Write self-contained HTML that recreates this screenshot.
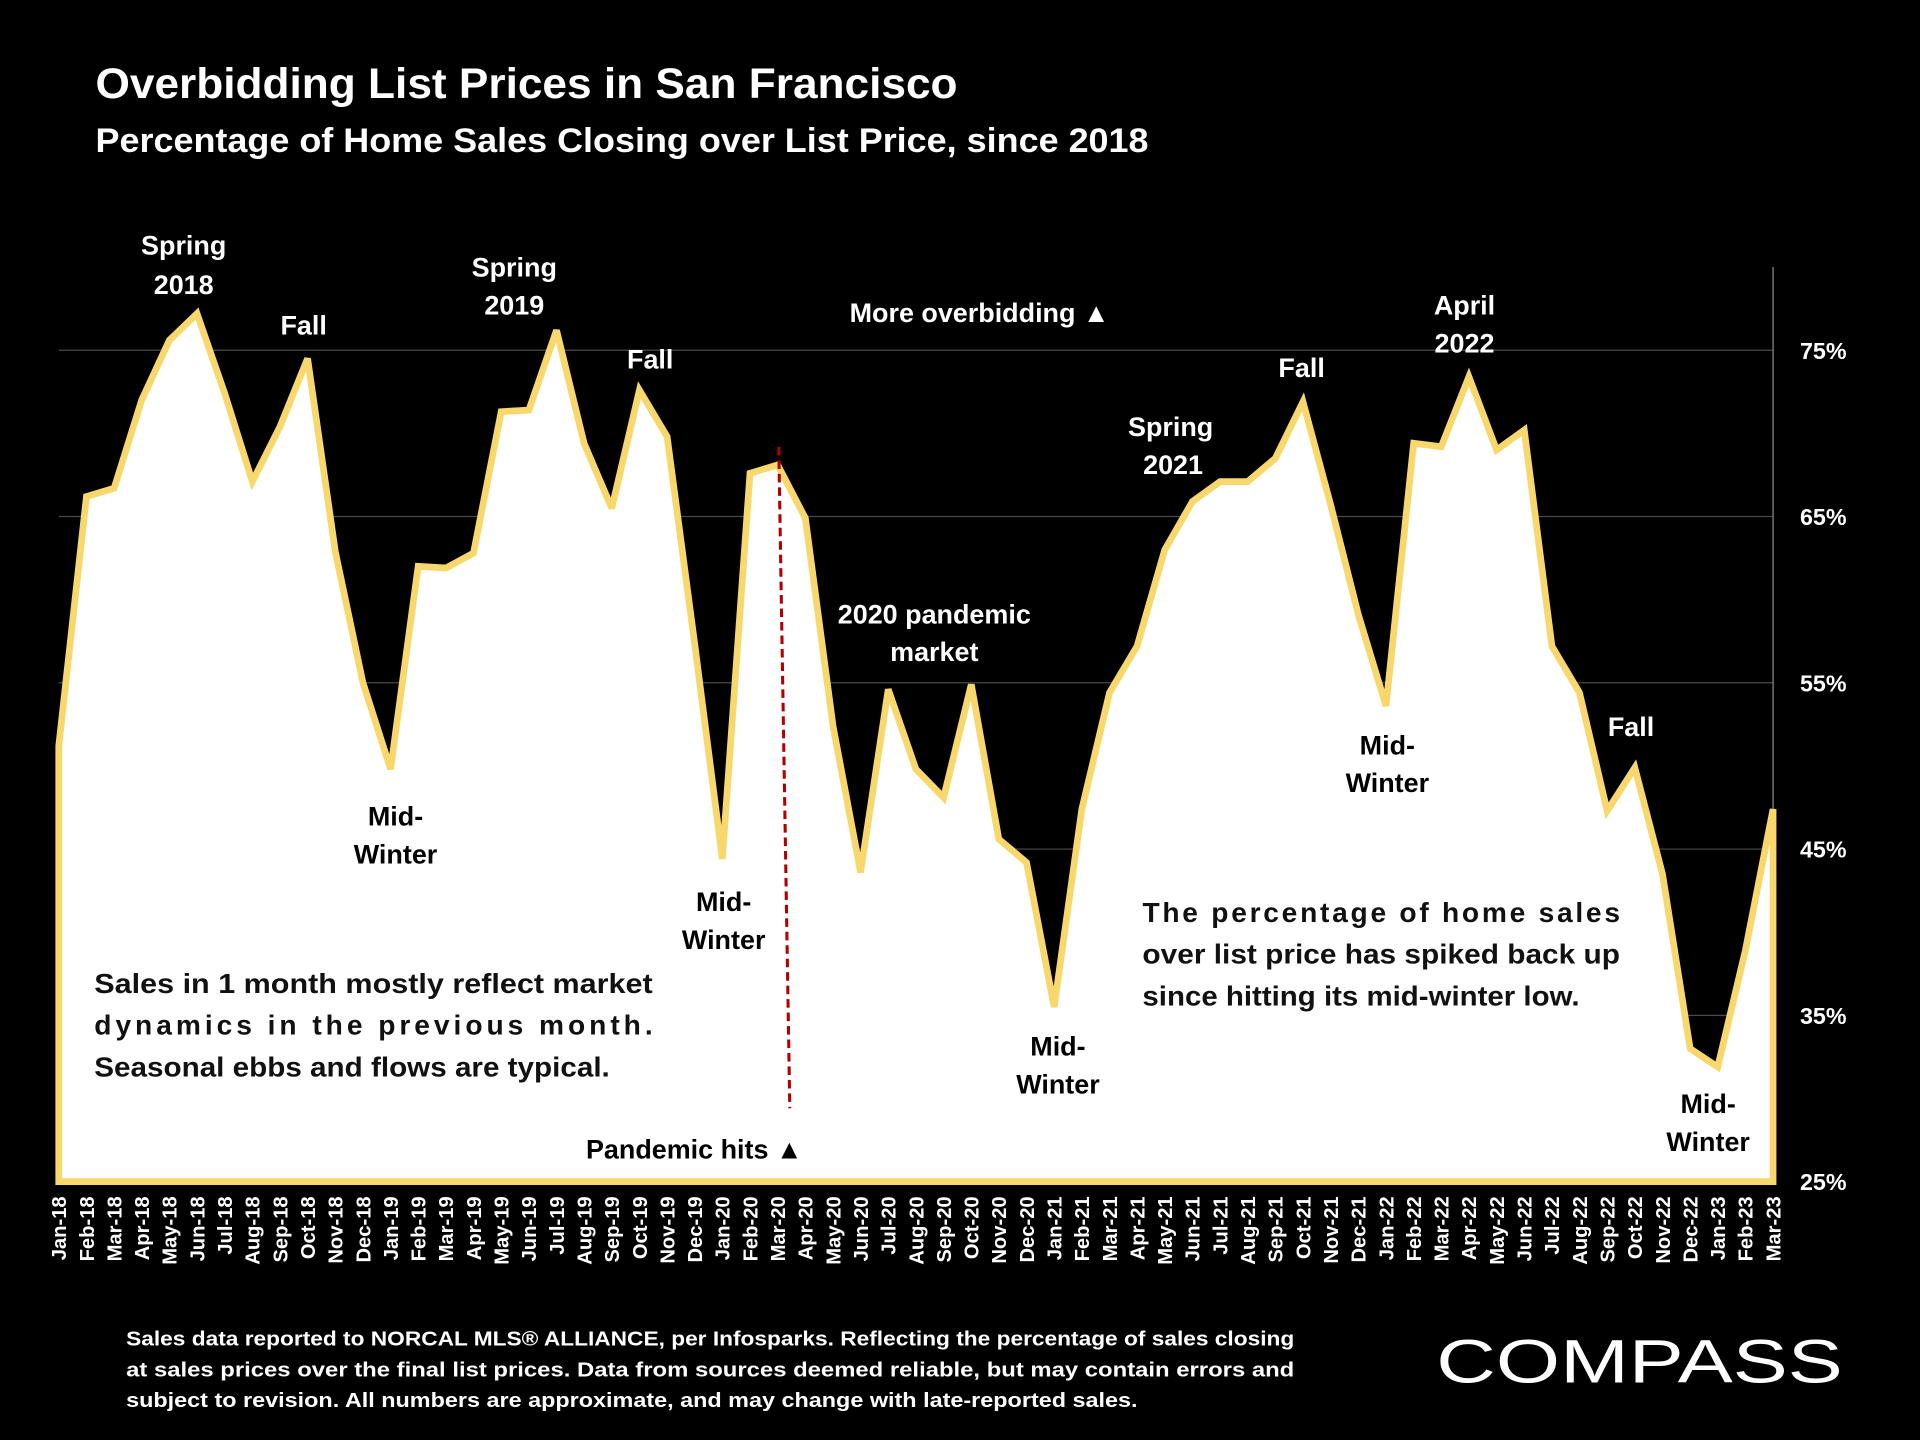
<!DOCTYPE html>
<html><head><meta charset="utf-8"><style>
html,body{margin:0;padding:0;background:#000;}
svg{display:block;font-family:"Liberation Sans",sans-serif;font-weight:bold;}
</style></head><body>
<svg id="chart" width="1920" height="1440" viewBox="0 0 1568 1176" xmlns="http://www.w3.org/2000/svg">
<rect width="1568" height="1176" fill="#000"/>
<text x="78" y="80" fill="#fff" font-size="35" textLength="704" lengthAdjust="spacingAndGlyphs">Overbidding List Prices in San Francisco</text>
<text x="78" y="124" fill="#fff" font-size="28" textLength="860" lengthAdjust="spacingAndGlyphs">Percentage of Home Sales Closing over List Price, since 2018</text>
<g id="grid"></g>
<g id="area"></g>
<g id="yticks"></g>
<g id="xticks"></g>
<line x1="636" y1="365" x2="645" y2="905" stroke="#b00000" stroke-width="2.5" stroke-dasharray="7,4"/>
<g fill="#000" font-size="22" text-anchor="middle">
<text x="150" y="208" fill="#fff">Spring</text><text x="150" y="240" fill="#fff">2018</text>
<text x="248" y="273" fill="#fff">Fall</text>
<text x="323" y="674">Mid-</text><text x="323" y="705">Winter</text>
<text x="420" y="226" fill="#fff">Spring</text><text x="420" y="257" fill="#fff">2019</text>
<text x="531" y="301" fill="#fff">Fall</text>
<text x="591" y="744">Mid-</text><text x="591" y="775">Winter</text>
<text x="763" y="509" fill="#fff">2020 pandemic</text><text x="763" y="540" fill="#fff">market</text>
<text x="800" y="263" fill="#fff">More overbidding ▲</text>
<text x="567" y="946">Pandemic hits ▲</text>
<text x="864" y="862">Mid-</text><text x="864" y="893">Winter</text>
<text x="956" y="356" fill="#fff">Spring</text><text x="958" y="387" fill="#fff">2021</text>
<text x="1063" y="308" fill="#fff">Fall</text>
<text x="1196" y="257" fill="#fff">April</text><text x="1196" y="288" fill="#fff">2022</text>
<text x="1133" y="616">Mid-</text><text x="1133" y="647">Winter</text>
<text x="1332" y="601" fill="#fff">Fall</text>
<text x="1395" y="909">Mid-</text><text x="1395" y="940">Winter</text>
</g>
<g fill="#111" font-size="23">
<text x="77" y="811" textLength="456" lengthAdjust="spacingAndGlyphs">Sales in 1 month mostly reflect market</text>
<text x="77" y="845" textLength="456" lengthAdjust="spacing">dynamics in the previous month.</text>
<text x="77" y="879" textLength="421" lengthAdjust="spacingAndGlyphs">Seasonal ebbs and flows are typical.</text>
</g>
<g fill="#111" font-size="23">
<text x="933" y="753" textLength="390" lengthAdjust="spacing">The percentage of home sales</text>
<text x="933" y="787" textLength="390" lengthAdjust="spacingAndGlyphs">over list price has spiked back up</text>
<text x="933" y="821" textLength="357" lengthAdjust="spacingAndGlyphs">since hitting its mid-winter low.</text>
</g>
<g fill="#fff" font-size="16.5">
<text x="103" y="1099" textLength="954" lengthAdjust="spacingAndGlyphs">Sales data reported to NORCAL MLS® ALLIANCE, per Infosparks. Reflecting the percentage of sales closing</text>
<text x="103" y="1124" textLength="954" lengthAdjust="spacingAndGlyphs">at sales prices over the final list prices. Data from sources deemed reliable, but may contain errors and</text>
<text x="103" y="1149" textLength="826" lengthAdjust="spacingAndGlyphs">subject to revision. All numbers are approximate, and may change with late-reported sales.</text>
</g>
<text x="1173" y="1129" fill="#fff" font-size="50" font-weight="normal" textLength="332" lengthAdjust="spacingAndGlyphs">COMPASS</text>
</svg>
<script>
const months = ["Jan-18","Feb-18","Mar-18","Apr-18","May-18","Jun-18","Jul-18","Aug-18","Sep-18","Oct-18","Nov-18","Dec-18",
"Jan-19","Feb-19","Mar-19","Apr-19","May-19","Jun-19","Jul-19","Aug-19","Sep-19","Oct-19","Nov-19","Dec-19",
"Jan-20","Feb-20","Mar-20","Apr-20","May-20","Jun-20","Jul-20","Aug-20","Sep-20","Oct-20","Nov-20","Dec-20",
"Jan-21","Feb-21","Mar-21","Apr-21","May-21","Jun-21","Jul-21","Aug-21","Sep-21","Oct-21","Nov-21","Dec-21",
"Jan-22","Feb-22","Mar-22","Apr-22","May-22","Jun-22","Jul-22","Aug-22","Sep-22","Oct-22","Nov-22","Dec-22",
"Jan-23","Feb-23","Mar-23"];
const pctOverList = [51.2,66.2,66.7,72.0,75.6,77.2,72.4,67.1,70.4,74.5,62.9,55.0,
49.8,62.0,61.9,62.8,71.3,71.4,76.2,69.4,65.5,72.6,69.8,57.3,
44.4,67.6,68.1,64.9,52.4,43.6,54.6,49.8,48.1,54.9,45.6,44.2,
35.5,47.4,54.4,57.2,63.0,65.9,67.1,67.1,68.5,71.9,65.7,59.1,
53.6,69.4,69.2,73.4,69.0,70.2,57.2,54.4,47.3,49.9,43.5,33.0,
31.9,38.9,47.4];
const yTicks = [25,35,45,55,65,75];
const yTickLabels = ["25%","35%","45%","55%","65%","75%"];

const NS = "http://www.w3.org/2000/svg";
const X0 = 48, X1 = 1448, Y75 = 286, Y25 = 965;
function xs(i){ return X0 + i * (X1 - X0) / (months.length - 1); }
function ys(v){ return Y25 - (v - 25) * (Y25 - Y75) / 50; }
function mk(tag, attrs, parent){ const e = document.createElementNS(NS, tag); for (const k in attrs) e.setAttribute(k, attrs[k]); parent.appendChild(e); return e; }

const grid = document.getElementById("grid");
yTicks.forEach((t, i) => {
  if (t > 25) {
    const gl = mk("line", {x1: X0, x2: X1, y1: ys(t), y2: ys(t), stroke: "#4a4a4a", "stroke-width": 1}, grid);
    
    
  }
});
const ax = mk("line", {x1: X1, x2: X1, y1: 218, y2: Y25, stroke: "#777", "stroke-width": 1.2}, grid);



const area = document.getElementById("area");
let pts = X0 + "," + Y25 + " ";
pctOverList.forEach((v, i) => { pts += xs(i).toFixed(1) + "," + ys(v).toFixed(1) + " "; });
pts += X1 + "," + Y25;
const poly = mk("polygon", {points: pts, fill: "#fff", stroke: "#f8d86c", "stroke-width": 5.5, "stroke-linejoin": "miter", "stroke-miterlimit": 3}, area);



const yt = document.getElementById("yticks");
yTicks.forEach((t, i) => {
  const tx = mk("text", {x: 1470, y: ys(t) + 7, fill: "#fff", "font-size": 19}, yt);
  tx.textContent = yTickLabels[i];
  
  
});

const xt = document.getElementById("xticks");
months.forEach((m, i) => {
  const x = xs(i) + 6, y = 977;
  const tx = mk("text", {x: x, y: y, fill: "#fff", "font-size": 16.5, "text-anchor": "end", transform: "rotate(-90 " + x + " " + y + ")"}, xt);
  tx.textContent = m;
  
  
});
</script>
</body></html>
